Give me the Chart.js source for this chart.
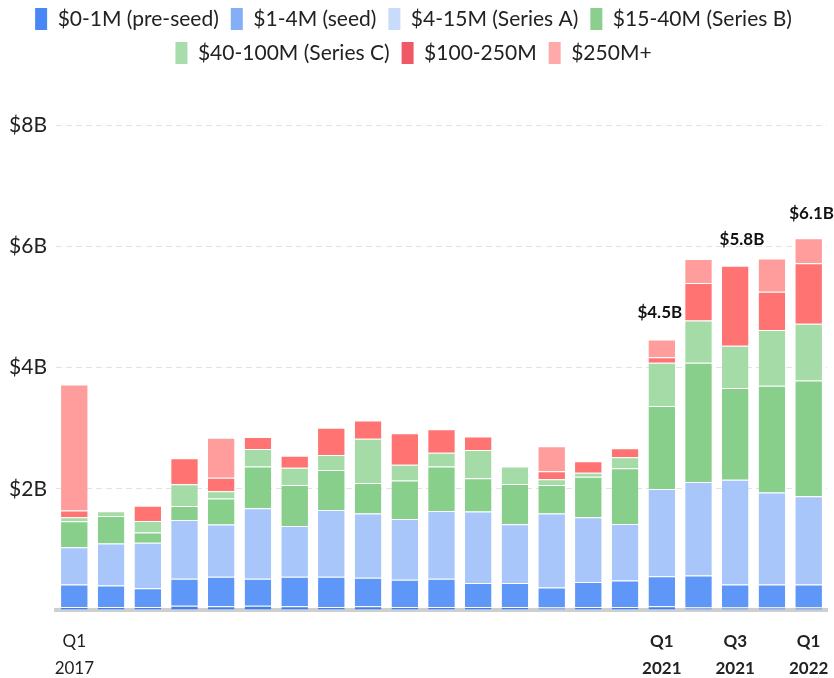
<!DOCTYPE html>
<html><head><meta charset="utf-8">
<script src="https://cdn.jsdelivr.net/npm/chart.js@4.4.1/dist/chart.umd.min.js"></script>
<style>html,body{margin:0;padding:0;background:#fff}#wrap{width:834px;height:678px}</style>
</head><body><div id="wrap"><canvas id="c" width="834" height="678"></canvas></div>
<script>
const quarters = ['Q1 2017','Q2 2017','Q3 2017','Q4 2017','Q1 2018','Q2 2018','Q3 2018','Q4 2018',
  'Q1 2019','Q2 2019','Q3 2019','Q4 2019','Q1 2020','Q2 2020','Q3 2020','Q4 2020',
  'Q1 2021','Q2 2021','Q3 2021','Q4 2021','Q1 2022'];
const tickLabels = [['Q1','2017'],'','','','','','','','','','','','','','','',
  ['Q1','2021'],'',['Q3','2021'],'',['Q1','2022']];
const boldTicks = [16,18,20];
const yTicks = [2,4,6,8];
const seriesNames = ['$0-1M (pre-seed)','$1-4M (seed)','$4-15M (Series A)','$15-40M (Series B)','$40-100M (Series C)','$100-250M','$250M+'];
const preSeed = [0.05,0.05,0.05,0.07,0.06,0.07,0.06,0.05,0.06,0.05,0.05,0.05,0.05,0.04,0.05,0.05,0.06,0.04,0.04,0.04,0.04];
const seed    = [0.37,0.355,0.31,0.445,0.49,0.445,0.49,0.50,0.47,0.45,0.465,0.395,0.395,0.33,0.41,0.435,0.495,0.53,0.38,0.38,0.38];
const seriesA = [0.615,0.69,0.75,0.97,0.86,1.165,0.835,1.10,1.06,1.00,1.12,1.18,0.97,1.22,1.07,0.935,1.44,1.54,1.73,1.52,1.455];
const seriesB = [0.43,0.455,0.17,0.23,0.43,0.685,0.675,0.66,0.505,0.635,0.73,0.55,0.665,0.47,0.67,0.92,1.37,1.97,1.51,1.76,1.91];
const seriesC = [0.065,0.08,0.19,0.36,0.12,0.29,0.285,0.245,0.73,0.26,0.23,0.465,0.285,0.095,0.065,0.18,0.715,0.695,0.70,0.92,0.935];
const growth  = [0.11,0,0.25,0.43,0.22,0.20,0.20,0.45,0.30,0.52,0.385,0.22,0,0.135,0.19,0.15,0.09,0.62,1.32,0.63,1.00];
const mega    = [2.08,0,0,0,0.66,0,0,0,0,0,0,0,0,0.41,0,0,0.29,0.395,0,0.55,0.41];
const totalLabelBars = [16,19,20];

const barColors = ['#3d7ff0','#5f97f8','#a8c6fa','#88cf8b','#a5dba7','#ff7373','#ff9d9d'];
const legendColors = ['#4a86f6','#84aef6','#c8dbfb','#8bcf8e','#a8dcaa','#ef5864','#ffa9ab'];
const seriesValues = [preSeed, seed, seriesA, seriesB, seriesC, growth, mega];

const FONT = 'Lato, "Noto Sans", sans-serif';
const labelOffsets = {16:[-2,-27], 19:[-30,-19], 20:[3,-25]};

const totalsPlugin = {
  id: 'totals',
  afterLayout(chart) {
    chart.legend.top = -4;
  },
  afterDatasetsDraw(chart) {
    const ctx = chart.ctx;
    const ys = chart.scales.y;
    const meta = chart.getDatasetMeta(chart.data.datasets.length - 1);
    ctx.save();
    ctx.font = 'bold 17px ' + FONT;
    ctx.fillStyle = '#111';
    ctx.textAlign = 'center';
    ctx.textBaseline = 'middle';
    totalLabelBars.forEach(i => {
      const total = chart.data.datasets.reduce((s, d) => s + (d.data[i] || 0), 0);
      const off = labelOffsets[i] || [0, -22];
      const x = meta.data[i].x + off[0];
      const y = ys.getPixelForValue(total) + off[1];
      ctx.fillText('$' + total.toFixed(1) + 'B', x, y);
    });
    ctx.restore();
  }
};
const legendFitPlugin = {
  id: 'legendFit',
  beforeInit(chart) {
    const orig = chart.legend.fit;
    chart.legend.fit = function() { orig.call(this); this.height = 125; };
  }
};

new Chart(document.getElementById('c'), {
  type: 'bar',
  data: {
    labels: quarters,
    datasets: seriesValues.map((vals, k) => ({
      label: seriesNames[k],
      data: vals,
      backgroundColor: barColors[k],
      borderColor: 'rgba(255,255,255,0.85)',
      borderWidth: {top: 1, left: 0, right: 0, bottom: 0},
      borderSkipped: 'start',
      categoryPercentage: 1,
      barPercentage: 0.725
    }))
  },
  plugins: [legendFitPlugin, totalsPlugin],
  options: {
    responsive: false,
    animation: false,
    layout: {padding: {top: 0, left: 0, right: 7, bottom: 0}},
    plugins: {
      tooltip: {enabled: false},
      legend: {
        position: 'top',
        labels: {
          boxWidth: 12,
          boxHeight: 22,
          padding: 12,
          color: '#222',
          font: {family: FONT, size: 21},
          generateLabels(chart) {
            const items = Chart.defaults.plugins.legend.labels.generateLabels(chart);
            items.forEach((it, k) => { it.fillStyle = legendColors[k]; it.strokeStyle = legendColors[k]; it.lineWidth = 0; });
            return items;
          }
        }
      }
    },
    scales: {
      x: {
        stacked: true,
        grid: {display: false, drawTicks: false},
        border: {display: true, color: '#cfcfcf', width: 4},
        afterFit(s) { s.height = 68; s.paddingLeft = 0; s.paddingRight = 0; },
        ticks: {
          autoSkip: false,
          maxRotation: 0,
          padding: 18,
          color: '#222',
          callback: (v, i) => tickLabels[i],
          font: (ctx) => ({family: FONT, size: 17, lineHeight: 1.6, weight: boldTicks.includes(ctx.index) ? 'bold' : 'normal'})
        }
      },
      y: {
        stacked: true,
        min: 0,
        max: 8,
        afterFit(s) { s.width = 56; },
        afterBuildTicks(s) { s.ticks = [0].concat(yTicks).map(v => ({value: v})); },
        grid: {color: '#e3e3e3', drawTicks: false},
        border: {display: false, dash: [6, 4]},
        ticks: {
          padding: 9,
          color: '#222',
          font: {family: FONT, size: 21},
          callback: v => v === 0 ? '' : '$' + v + 'B'
        }
      }
    }
  }
});
</script>
</body></html>
